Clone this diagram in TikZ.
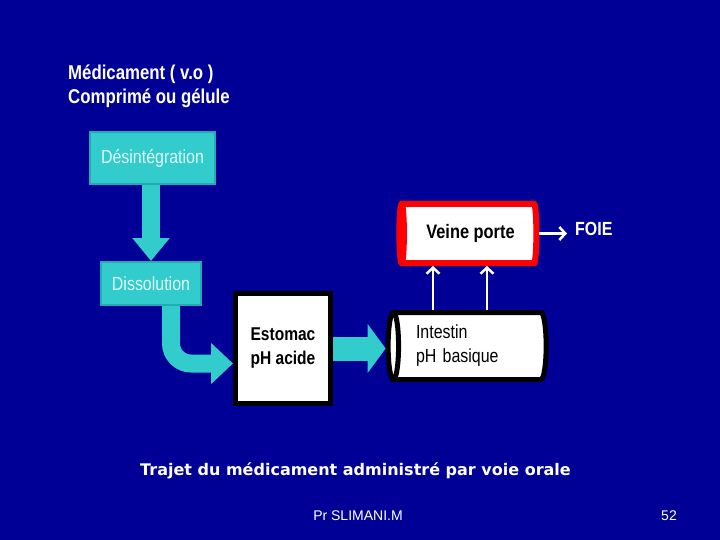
\documentclass[tikz,border=0pt]{standalone}
\usepackage{fontspec}
\setmainfont{Liberation Sans}
\newfontfamily\narrowsans[FakeStretch=0.84]{Liberation Sans}
\newfontfamily\wideserifless{DejaVu Sans}
\usetikzlibrary{shapes.geometric,arrows.meta}

\definecolor{bgblue}{RGB}{0,0,150}
\definecolor{boxteal}{RGB}{51,204,204}
\definecolor{tealedge}{RGB}{35,170,180}
\definecolor{stagetext}{RGB}{225,250,250}

\tikzset{
  stagebox/.style={draw=tealedge, line width=2pt, fill=boxteal, text=stagetext,
    inner sep=0pt, font=\narrowsans\fontsize{19}{22}\selectfont},
  organbox/.style={draw=black, line width=5pt, fill=white, align=left,
    font=\narrowsans\bfseries\fontsize{18.5}{24}\selectfont},
  tube/.style={shape=cylinder, shape border rotate=180, aspect=0.25,
    fill=white, inner sep=0pt},
  flowarrow/.style={draw=boxteal, line width=#1},
  passarrow/.style={draw=white, line width=2.5pt, -{Straight Barb[length=6pt,width=13pt]}},
}

\begin{document}
\begin{tikzpicture}[x=1pt,y=-1pt]
\fill[bgblue] (0,0) rectangle (720,540);
\useasboundingbox (0,0) rectangle (720,540);

% title
\node[anchor=west, align=left, text=white, inner sep=0pt,
  font=\narrowsans\bfseries\fontsize{20}{24}\selectfont] (title) at (68,86)
  {Médicament ( v.o )\\Comprimé ou gélule};

% stages
\node[stagebox, minimum width=125pt, minimum height=52pt] (desint) at (152.5,158) {Désintégration};
\node[stagebox, minimum width=100pt, minimum height=43pt] (dissol) at (151,283.5) {Dissolution};

% organs
\node[organbox, minimum width=95pt, minimum height=110pt] (estomac) at (283,348.5) {Estomac\\pH acide};
\node[tube, draw=black, line width=5pt, minimum height=158pt, minimum width=67pt,
  text width=110pt, align=left, font=\narrowsans\fontsize{19}{24}\selectfont]
  (intestin) at (471,346) {Intestin\\pH basique};
\node[tube, draw=red, line width=6pt, minimum height=137pt, minimum width=59pt,
  font=\narrowsans\bfseries\fontsize{19.5}{22}\selectfont]
  (veine) at (470.5,233.5) {Veine porte};
\node[anchor=west, text=white, inner sep=0pt,
  font=\narrowsans\bfseries\fontsize{19}{22}\selectfont] (foie) at (575,229) {FOIE};

% teal arrows
\draw[flowarrow=18pt, -{Triangle[width=36pt,length=23pt]}] (desint.south -| dissol.north) -- (dissol.north);
\coordinate (bendstart) at ([xshift=20pt]dissol.south);
\coordinate (bendend) at ([yshift=-15pt]estomac.west);
\draw[flowarrow=18pt, rounded corners=20pt, -{Triangle[width=40pt,length=22pt]}]
  (bendstart) |- (bendend);
\draw[flowarrow=24pt, -{Triangle[width=48pt,length=18pt]}] (estomac.east) -- (estomac.east -| intestin.west);

% absorption arrows
\coordinate (abs1) at ([xshift=-38pt]intestin.north);
\coordinate (abs2) at ([xshift=16pt]intestin.north);
\draw[passarrow] (abs1) -- (abs1 |- veine.south);
\draw[passarrow] (abs2) -- (abs2 |- veine.south);
\draw[passarrow, shorten >=8pt] (veine.east) -- (veine.east -| foie.west);

% caption
\node[text=white, font=\wideserifless\bfseries\fontsize{16}{19}\selectfont] (caption)
  at (355.5,471) {Trajet du médicament administré par voie orale};
\node[text=white, font=\fontsize{14}{16}\selectfont] (author) at (358,516) {Pr SLIMANI.M};
\node[text=white, font=\fontsize{14}{16}\selectfont] (page) at (669,516) {52};
\end{tikzpicture}
\end{document}
